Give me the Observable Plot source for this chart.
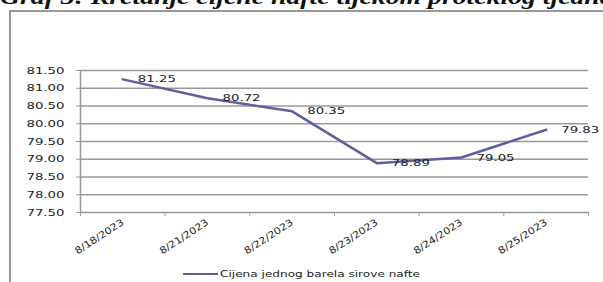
<!DOCTYPE html>
<html>
<head>
<meta charset="utf-8">
<script src="https://cdn.jsdelivr.net/npm/d3@7"></script>
<script src="https://cdn.jsdelivr.net/npm/@observablehq/plot@0.6"></script>
<style>
  html, body { margin: 0; padding: 0; background: #fff; width: 603px; height: 282px; overflow: hidden; }
  #title { position: relative; height: 10px; overflow: hidden; }
  #title span { position: absolute; left: 0px; top: -13px; font-family: "Liberation Serif", serif; font-weight: bold; font-style: italic; font-size: 21px; line-height: 21px; white-space: nowrap; color: #111; transform-origin: left center; transform: scaleX(1.32); }
  #frame { margin-left: 9px; border-left: 2px solid #999; border-top: 2px solid #999; height: 272px; position: relative; }
  #legend { position: absolute; left: 172px; top: 255px; height: 14px; display: flex; align-items: center; }
  #legend .sw { width: 35px; height: 0; border-top: 2.5px solid #5f5f9e; }
  #legend .lt { font-family: "DejaVu Sans", sans-serif; font-size: 9px; color: #222; white-space: nowrap; transform-origin: left center; margin-left: 2px; }
</style>
</head>
<body>
<div id="title"><span>Graf 3: Kretanje cijene nafte tijekom proteklog tjedna</span></div>
<div id="frame"><div id="chart"></div>
  <div id="legend"><div class="sw"></div><div class="lt">Cijena jednog barela sirove nafte</div></div>
</div>
<script>
const dates = ["8/18/2023", "8/21/2023", "8/22/2023", "8/23/2023", "8/24/2023", "8/25/2023"];
const prices = [81.25, 80.72, 80.35, 78.89, 79.05, 79.83];
const yTicks = [77.5, 78.0, 78.5, 79.0, 79.5, 80.0, 80.5, 81.0, 81.5];
const seriesName = "Cijena jednog barela sirove nafte";

const data = dates.map((d, i) => ({i, date: d, price: prices[i]}));
const idx = dates.map((d, i) => i);
const bounds = [-0.5, ...idx.map(i => i + 0.5)];
const lineColor = "#5f5f9e";
const gridColor = "#999";

const chart = Plot.plot({
  width: 592,
  height: 250,
  marginLeft: 69,
  marginRight: 15,
  marginTop: 58,
  marginBottom: 50,
  style: {fontFamily: "DejaVu Sans, sans-serif", fontSize: "9.5px", color: "#222", background: "transparent"},
  x: {type: "linear", domain: [-0.5, dates.length - 0.5]},
  y: {domain: [yTicks[0], yTicks[yTicks.length - 1]]},
  marks: [
    Plot.gridY(yTicks.slice(1), {stroke: gridColor, strokeOpacity: 1, strokeWidth: 1.5}),
    Plot.ruleY([yTicks[0]], {stroke: gridColor, strokeWidth: 1.5}),
    Plot.ruleX([-0.5], {stroke: gridColor, strokeWidth: 1.5}),
    Plot.axisY(yTicks, {tickFormat: d => d.toFixed(2), tickSize: 4, tickPadding: 12, stroke: gridColor, label: null}),
    Plot.axisX(bounds, {tickFormat: () => "", tickSize: 4, stroke: gridColor, label: null}),
    Plot.axisX(idx, {tickFormat: i => dates[i], tickSize: 0, tickPadding: 9, tickRotate: -33, label: null, className: "xlab"}),
    Plot.line(data, {x: "i", y: "price", stroke: lineColor, strokeWidth: 2.5}),
    Plot.text(data, {x: "i", y: "price", text: d => d.price.toFixed(2), textAnchor: "start", lineAnchor: "middle", dx: 15, fill: "#222"})
  ]
});
document.getElementById("chart").appendChild(chart);

// emulate the horizontally stretched lettering of the original
chart.querySelectorAll("text").forEach(t => {
  const isX = !!t.closest(".xlab") || (t.getAttribute("transform") || "").includes("rotate");
  const k = isX ? 1.15 : 1.4;
  const len = t.getComputedTextLength();
  if (len > 0) {
    t.setAttribute("textLength", (len * k).toFixed(2));
    t.setAttribute("lengthAdjust", "spacingAndGlyphs");
  }
});
const lt = document.querySelector("#legend .lt");
const w = lt.getBoundingClientRect().width;
lt.style.transform = `scaleX(${(200 / w).toFixed(3)})`;
</script>
</body>
</html>
